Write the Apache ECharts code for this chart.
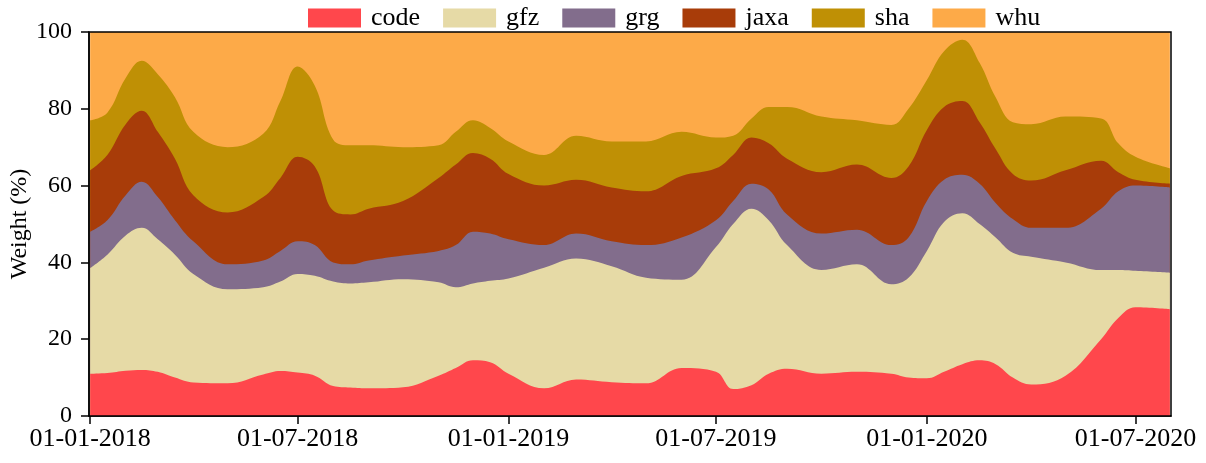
<!DOCTYPE html>
<html>
<head>
<meta charset="utf-8">
<script src="https://cdn.jsdelivr.net/npm/echarts@6/dist/echarts.min.js"></script>
<style>
    html, body { margin: 0; padding: 0; background: #fff; }
    #chart { width: 1206px; height: 463px; }
</style>
</head>
<body>
<div id="chart"></div>
<script>
    // sample dates (roughly every 2-4 weeks)
    var dates = [
        '2018-01-01', '2018-01-16', '2018-02-01', '2018-02-15', '2018-03-01', '2018-03-16',
        '2018-04-01', '2018-05-01', '2018-06-01', '2018-06-16', '2018-07-01', '2018-07-16',
        '2018-08-01', '2018-08-16', '2018-09-01', '2018-10-01', '2018-11-01', '2018-11-16',
        '2018-12-01', '2018-12-16', '2019-01-01', '2019-02-01', '2019-03-01', '2019-04-01',
        '2019-05-01', '2019-06-01', '2019-07-01', '2019-07-16', '2019-08-01', '2019-08-16',
        '2019-09-01', '2019-10-01', '2019-11-01', '2019-12-01', '2019-12-16', '2020-01-01',
        '2020-01-16', '2020-02-01', '2020-02-16', '2020-03-01', '2020-03-16', '2020-04-01',
        '2020-05-01', '2020-06-01', '2020-06-16', '2020-07-01', '2020-07-31'
    ];

    // weights in percent, per analysis centre
    var code = [11, 11.2, 11.8, 12, 11.5, 10, 8.7, 8.5, 10.8, 11.7, 11.3, 10.5,
        7.8, 7.4, 7.2, 7.5, 10.5, 12.5, 14.5, 14, 11, 7.2, 9.5, 8.8,
        8.5, 12.5, 11.5, 7, 8, 11, 12.3, 11, 11.5, 11, 10, 9.8,
        11.5, 13.5, 14.5, 13.5, 10, 8.2, 10.5, 20, 25.5, 28.3, 27.8];
    var gfz = [27.5, 30.8, 35.2, 37, 34.5, 32, 28.3, 24.5, 22.7, 23.3, 25.7, 26,
        27.2, 27.1, 27.6, 28.1, 24.3, 21, 20, 21.2, 24.8, 31.4, 31.5, 30.2,
        27.5, 23, 32.5, 43, 46, 40, 32.2, 27, 28, 23.3, 26, 33.2,
        39, 39.3, 35.5, 33, 32.5, 33.3, 29.5, 18, 12.5, 9.5, 9.5];
    var grg = [9.5, 9, 10.5, 12, 11, 9, 8.5, 6.5, 7, 8, 8.5, 8,
        5, 5, 5.7, 6.2, 8.2, 11, 13.5, 12.3, 10.2, 5.9, 6.5, 6.5,
        8.5, 11, 7, 6, 6.5, 8, 8, 9.5, 9, 10.2, 10.5, 13,
        11, 10, 10.5, 9, 8.8, 7.5, 9, 16, 20.5, 22.2, 22.2];
    var jaxa = [16, 17, 18.5, 18.5, 17, 16, 12, 13.5, 16.5, 19, 22, 20.5,
        13.5, 13, 13.5, 14.2, 19, 21, 20.5, 19.5, 17, 15.5, 14, 14,
        14, 16, 13.5, 12, 12, 12, 14.5, 16, 17, 17.5, 18.5, 18.5,
        19, 19.2, 16, 14, 11.7, 12.3, 15, 12.5, 5, 1.5, 1];
    var sha = [13, 11, 12, 13, 15, 16, 16.5, 17, 16.5, 20, 23.5, 21,
        18.5, 18, 16.5, 14, 8.5, 8.5, 8.5, 8, 8.5, 8, 11.5, 12,
        13, 11.5, 8, 5, 5, 9.5, 13.5, 14.5, 11.5, 13.8, 15, 13,
        14.5, 16, 15.5, 13.5, 13.5, 14.7, 14, 11, 7.5, 6, 4];
    var whu = [23, 21, 12, 7.5, 11, 17, 26, 30, 26.5, 18, 9, 14,
        28, 29.5, 29.5, 30, 29.5, 26, 23, 25, 28.5, 32, 27, 28.5,
        28.5, 26, 27.5, 27, 22.5, 19.5, 19.5, 22, 23, 24.2, 20, 12.5,
        5, 2, 8, 17, 23.5, 24, 22, 22.5, 29, 32.5, 35.5];

    // x tick labels (day-month-year)
    var tickLabels = ['01-01-2018', '01-07-2018', '01-01-2019', '01-07-2019', '01-01-2020', '01-07-2020'];

    var names = ['code', 'gfz', 'grg', 'jaxa', 'sha', 'whu'];
    var values = [code, gfz, grg, jaxa, sha, whu];
    var colors = ['#ff474c', '#e6daa6', '#826d8c', '#a83c09', '#bf9005', '#fdaa48'];

    var font = 'Liberation Serif';

    function pad(n) { return n < 10 ? '0' + n : '' + n; }
    // 'YYYY-MM-DD' -> ms, UTC
    function ymd(s) {
        var p = s.split('-');
        return Date.UTC(+p[0], +p[1] - 1, +p[2]);
    }
    // 'DD-MM-YYYY' -> ms, UTC
    function dmy(s) {
        var p = s.split('-');
        return Date.UTC(+p[2], +p[1] - 1, +p[0]);
    }

    var tickValues = tickLabels.map(dmy);

    // stacking by hand (x is a value axis here): each area fills from 0 to the running total,
    // lower centres drawn on top
    var running = dates.map(function () { return 0; });
    var series = names.map(function (nm, i) {
        var data = dates.map(function (d, j) {
            running[j] += values[i][j];
            return [ymd(d), +running[j].toFixed(2)];
        });
        return {
            name: nm,
            type: 'line',
            z: 10 - i,
            smooth: 0.4,
            showSymbol: false,
            symbol: 'none',
            lineStyle: { width: 0 },
            areaStyle: { color: colors[i], opacity: 1, origin: 'start' },
            itemStyle: { color: colors[i] },
            data: data
        };
    });

    var chart = echarts.init(document.getElementById('chart'));
    var option = {
        animation: false,
        color: colors,
        textStyle: { fontFamily: font, color: '#000' },
        legend: {
            data: names,
            left: 303,
            top: 0,
            itemWidth: 53,
            itemHeight: 19,
            itemGap: 23,
            icon: 'rect',
            textStyle: { fontFamily: font, fontSize: 26, color: '#000', padding: [0, 0, 0, 5] }
        },
        grid: {
            left: 89,
            right: 35,
            top: 32,
            bottom: 47,
            outerBoundsMode: 'none',
            show: true,
            borderColor: '#000',
            borderWidth: 1.5,
            backgroundColor: 'transparent',
            z: 20
        },
        xAxis: {
            type: 'value',
            min: ymd('2017-12-31'),
            max: ymd('2020-08-01'),
            splitLine: { show: false },
            axisLine: { lineStyle: { color: '#000', width: 1.5 } },
            axisTick: {
                show: true, length: 8, customValues: tickValues,
                lineStyle: { color: '#000', width: 1.5 }
            },
            axisLabel: {
                fontFamily: font,
                fontSize: 26,
                color: '#000',
                margin: 10,
                customValues: tickValues,
                formatter: function (v) {
                    var d = new Date(v);
                    return pad(d.getUTCDate()) + '-' + pad(d.getUTCMonth() + 1) + '-' + d.getUTCFullYear();
                }
            }
        },
        yAxis: {
            type: 'value',
            min: 0,
            max: 100,
            interval: 20,
            name: 'Weight (%)',
            nameLocation: 'middle',
            nameGap: 57,
            nameMoveOverlap: false,
            nameTextStyle: { fontFamily: font, fontSize: 24, color: '#000' },
            splitLine: { show: false },
            axisLine: { show: true, lineStyle: { color: '#000', width: 1.5 } },
            axisTick: { show: true, length: 8, lineStyle: { color: '#000', width: 1.5 } },
            axisLabel: { fontFamily: font, fontSize: 24, color: '#000', margin: 17 }
        },
        series: series
    };
    chart.setOption(option);
</script>
</body>
</html>
